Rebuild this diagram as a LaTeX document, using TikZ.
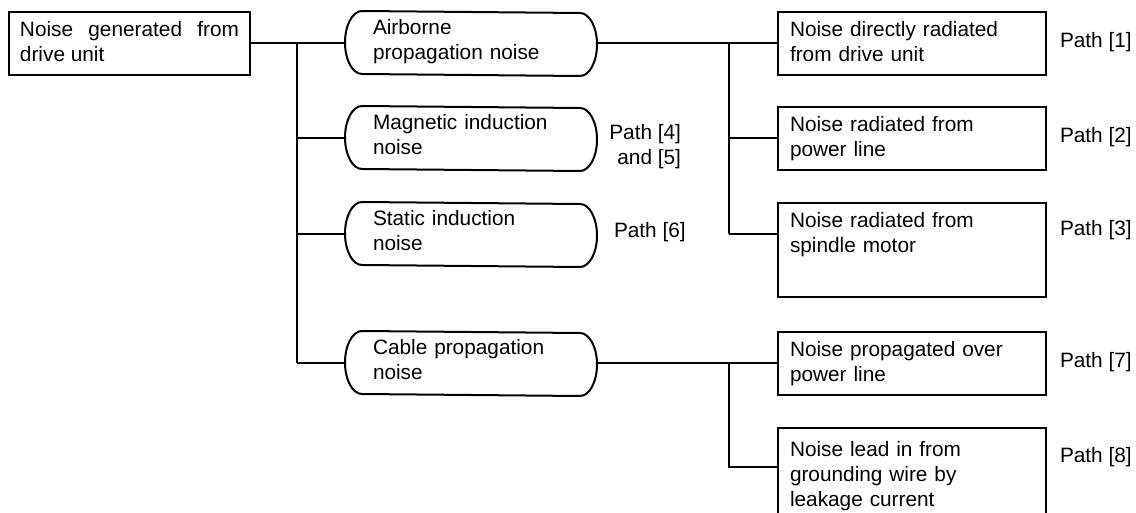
\documentclass[tikz,border=0pt]{standalone}
\usepackage{fontspec}
\setmainfont{Liberation Sans}
\usetikzlibrary{calc}

\tikzset{every picture/.style={line width=1.5pt}}
\tikzset{
  txt/.style={font=\fontsize{15.6}{18.75}\selectfont},
  box/.style={txt, draw, anchor=north west, inner xsep=9pt, inner ysep=0pt, text width=183pt, align=left, text height=18.75pt, text depth=28.5pt},
  pill/.style={txt, anchor=north west, inner xsep=20.25pt, inner ysep=0pt, text width=147pt, align=left, text height=17.25pt, text depth=30pt},
  tag/.style={txt, anchor=west, inner sep=0.75pt},
}

\begin{document}
\begin{tikzpicture}[x=0.75pt,y=0.75pt,yscale=-1,xscale=1]
		\useasboundingbox (0,0) rectangle (1136,513);
		
		%Shape: Rectangle [id:src] 
		\node [box, inner xsep=8.25pt, text width=164.25pt, align=justify] (src) at (8,11) {Noise generated from drive unit};
		
		%Shape: Rounded Rectangle [id:air] 
		\node [pill] (air) at (345,11) {Airborne\\propagation noise};
		%Shape: Rounded Rectangle [id:mag] 
		\node [pill] (mag) at (345,106) {Magnetic induction\\noise};
		%Shape: Rounded Rectangle [id:sta] 
		\node [pill] (sta) at (345,202) {Static induction\\noise};
		%Shape: Rounded Rectangle [id:cab] 
		\node [pill] (cab) at (345,331) {Cable propagation\\noise};
		\foreach \n in {air,mag,sta,cab}
		  \draw ($(\n.north west)+(17,0)$) arc[start angle=270, end angle=90, x radius=17, y radius=31.5] -- ($(\n.south east)-(17,0)$) arc[start angle=90, end angle=-90, x radius=17, y radius=31.5] -- cycle ;
		
		%Shape: Rectangle [id:rad1] 
		\node [box] (rad1) at (777,11) {Noise directly radiated\\from drive unit};
		%Shape: Rectangle [id:rad2] 
		\node [box] (rad2) at (777,106) {Noise radiated from\\power line};
		%Shape: Rectangle [id:rad3] 
		\node [box, text depth=51.75pt] (rad3) at (777,202) {Noise radiated from\\spindle motor};
		%Shape: Rectangle [id:prop1] 
		\node [box] (prop1) at (777,331) {Noise propagated over\\power line};
		%Shape: Rectangle [id:prop2] 
		\node [box, text height=21pt, text depth=50.25pt] (prop2) at (777,427) {Noise lead in from\\grounding wire by\\leakage current};
		
		\coordinate (j0) at (297,42.5);
		\coordinate (j1) at (729,42.5);
		\coordinate (j2) at (729,362.5);
		\coordinate (j3) at (729,467);
		
		\draw    (src.east) -- (air.west) ;
		\draw    (j0) -- (j0 |- cab.west) ;
		\draw    (j0 |- mag.west) -- (mag.west) ;
		\draw    (j0 |- sta.west) -- (sta.west) ;
		\draw    (j0 |- cab.west) -- (cab.west) ;
		\draw    (air.east) -- (rad1.west) ;
		\draw    (j1) -- (j1 |- sta.east) ;
		\draw    (j1 |- rad2.west) -- (rad2.west) ;
		\draw    (j1 |- sta.east) -- (rad3.west |- sta.east) ;
		\draw    (cab.east) -- (prop1.west) ;
		\draw    (j2) -- (j3) -- (j3 -| prop2.west) ;
		
		\node [tag] (p1) at (1058,42) {Path [1]};
		\node [tag] (p2) at (1058,137) {Path [2]};
		\node [tag] (p3) at (1058,230) {Path [3]};
		\node [tag, anchor=east, align=right] (p45) at (683,147) {Path [4]\\and [5]};
		\node [tag] (p6) at (612,232) {Path [6]};
		\node [tag] (p7) at (1058,362) {Path [7]};
		\node [tag] (p8) at (1058,457) {Path [8]};
		
\end{tikzpicture}
\end{document}
